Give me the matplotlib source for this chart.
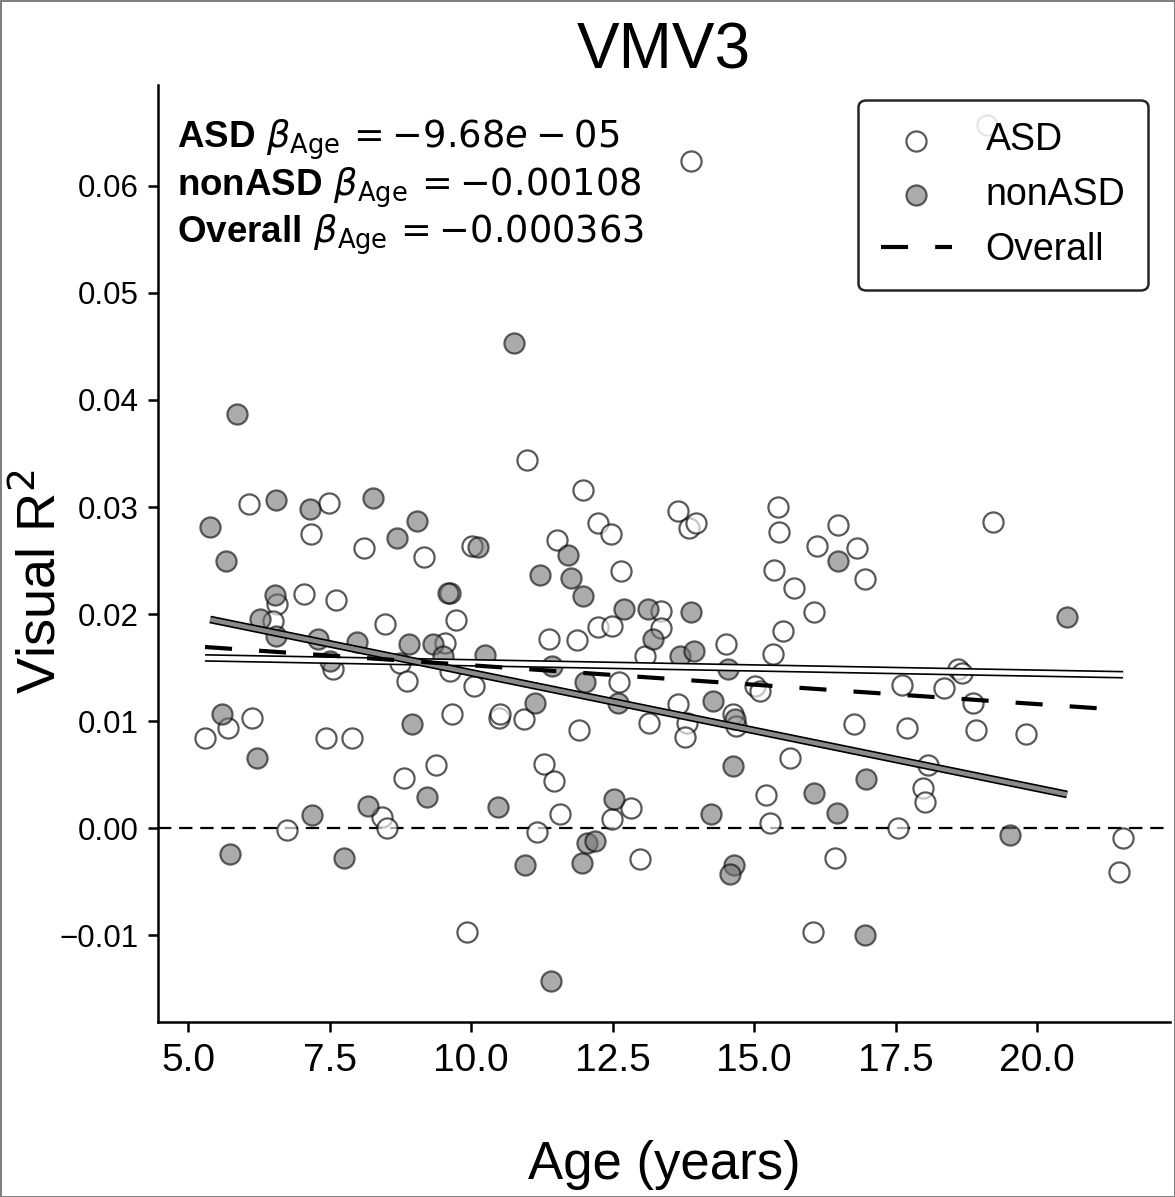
import numpy as np
import matplotlib
matplotlib.use("Agg")
import matplotlib.pyplot as plt
import matplotlib.patheffects as pe

plt.rcParams['font.family'] = ['Liberation Sans', 'DejaVu Sans']
plt.rcParams['mathtext.fontset'] = 'custom'
plt.rcParams['mathtext.rm'] = 'DejaVu Sans'
plt.rcParams['mathtext.it'] = 'DejaVu Sans:italic'
plt.rcParams['mathtext.bf'] = 'Liberation Sans:bold'

# -------------------------------
# Visual R^2 by age, ASD group (open markers)
asd_age = [13.89, 19.12, 6.08, 7.49, 7.17, 8.11, 9.17, 10.02, 6.57, 7.05, 7.61, 9.62,
           6.50, 8.48, 9.73, 9.54, 7.56, 8.75, 9.63, 8.87, 10.05, 6.13, 5.71, 5.30,
           7.44, 7.90, 9.66, 10.49, 10.51, 10.94, 9.38, 8.82, 8.43, 8.51, 6.75, 9.93,
           10.99, 11.98, 12.24, 12.47, 13.66, 13.85, 13.97, 15.42, 15.44, 16.11, 16.48,
           11.52, 12.65, 15.35, 15.71, 16.06, 15.51, 13.36, 13.36, 12.24, 12.49, 11.38,
           11.87, 14.51, 15.34, 16.82, 16.96, 19.22, 13.07, 12.62, 15.02, 15.11, 11.91,
           13.14, 13.66, 13.82, 13.78, 14.63, 14.68, 15.64, 11.29, 11.47, 15.21, 11.57,
           12.83, 12.49, 15.28, 11.17, 12.99, 16.43, 16.04, 18.60, 18.67, 17.62, 18.36,
           18.87, 16.77, 17.70, 18.92, 19.81, 18.07, 17.99, 18.02, 17.54, 21.52, 21.45]
asd_r2 = [0.0623, 0.0657, 0.0303, 0.0304, 0.0275, 0.0262, 0.0253, 0.0264, 0.0209, 0.0219,
          0.0213, 0.0220, 0.0193, 0.0191, 0.0194, 0.0173, 0.0149, 0.0154, 0.0147, 0.0137,
          0.0133, 0.0103, 0.0093, 0.0084, 0.0084, 0.0084, 0.0107, 0.0103, 0.0107, 0.0102,
          0.0059, 0.0047, 0.0010, 0.0000, -0.0002, -0.0097, 0.0344, 0.0316, 0.0285, 0.0275,
          0.0296, 0.0280, 0.0285, 0.0300, 0.0277, 0.0264, 0.0283, 0.0269, 0.0240, 0.0241,
          0.0224, 0.0202, 0.0184, 0.0203, 0.0187, 0.0188, 0.0189, 0.0177, 0.0176, 0.0172,
          0.0163, 0.0262, 0.0233, 0.0286, 0.0161, 0.0136, 0.0133, 0.0128, 0.0092, 0.0098,
          0.0116, 0.0098, 0.0085, 0.0107, 0.0095, 0.0065, 0.0060, 0.0044, 0.0031, 0.0013,
          0.0019, 0.0008, 0.0005, -0.0004, -0.0029, -0.0028, -0.0097, 0.0149, 0.0145, 0.0134,
          0.0131, 0.0117, 0.0097, 0.0093, 0.0092, 0.0088, 0.0059, 0.0037, 0.0024, 0.0000,
          -0.0009, -0.0041]

# nonASD group (filled markers)
nonasd_age = [5.87, 6.55, 7.16, 8.27, 5.39, 8.69, 9.05, 10.12, 5.67, 6.54, 9.59, 6.27,
              6.55, 7.30, 7.99, 8.90, 9.33, 10.25, 7.51, 9.50, 5.60, 6.22, 8.96, 9.22,
              8.18, 7.19, 10.48, 5.74, 7.76, 10.76, 16.48, 11.71, 11.22, 11.77, 11.98,
              12.70, 13.13, 13.89, 13.22, 20.53, 13.69, 13.94, 11.43, 14.54, 12.01, 12.60,
              11.13, 14.28, 14.66, 14.63, 16.06, 12.53, 14.24, 16.47, 12.05, 12.19, 10.95,
              11.96, 14.65, 14.58, 11.41, 16.98, 19.52, 16.96]
nonasd_r2 = [0.0387, 0.0307, 0.0298, 0.0308, 0.0281, 0.0271, 0.0287, 0.0263, 0.0250, 0.0218,
             0.0220, 0.0195, 0.0179, 0.0177, 0.0174, 0.0172, 0.0172, 0.0162, 0.0156, 0.0161,
             0.0107, 0.0065, 0.0097, 0.0029, 0.0021, 0.0012, 0.0020, -0.0024, -0.0028, 0.0453,
             0.0250, 0.0255, 0.0236, 0.0234, 0.0217, 0.0205, 0.0205, 0.0202, 0.0177, 0.0197,
             0.0161, 0.0165, 0.0151, 0.0149, 0.0136, 0.0117, 0.0117, 0.0119, 0.0102, 0.0058,
             0.0033, 0.0027, 0.0013, 0.0014, -0.0014, -0.0012, -0.0035, -0.0033, -0.0035,
             -0.0043, -0.0143, 0.0046, -0.0007, -0.0100]

# fitted age slopes and intercepts
groups = ['ASD', 'nonASD', 'Overall']
slopes = [-9.68e-05, -0.00108, -0.000363]
intercepts = [0.01641, 0.02531, 0.01884]
slope_labels = [r'-9.68e\:-\:05', '-0.00108', '-0.000363']

xticks = [5.0, 7.5, 10.0, 12.5, 15.0, 17.5, 20.0]
yticks = [-0.01, 0.00, 0.01, 0.02, 0.03, 0.04, 0.05, 0.06]

# -------------------------------
fig = plt.figure(figsize=(11.75, 11.97), dpi=100)
fig.patch.set_edgecolor('#7f7f7f')
fig.patch.set_linewidth(2)
ax = fig.add_axes([0.1345, 0.1462, 0.8613, 0.7828])

ax.axhline(0, color='k', lw=1.6, dashes=(6, 3.5), zorder=1)

ax.scatter(asd_age, asd_r2, s=210, facecolor='white', edgecolor='k', linewidth=1.6,
           alpha=0.65, zorder=2, label='ASD')
ax.scatter(nonasd_age, nonasd_r2, s=210, facecolor='#747474', edgecolor='k', linewidth=1.6,
           alpha=0.6, zorder=2, label='nonASD')

all_age = asd_age + nonasd_age
spans = [(min(asd_age), max(asd_age)), (min(nonasd_age), max(nonasd_age)),
         (min(all_age), max(all_age))]

# group fits drawn as outlined lines
fill_colors = ['white', '#8a8a8a']
for i in range(2):
    xs = np.array(spans[i])
    ax.plot(xs, intercepts[i] + slopes[i] * xs, color=fill_colors[i], lw=3.2,
            solid_capstyle='butt', zorder=4,
            path_effects=[pe.Stroke(linewidth=5.6, foreground='k'), pe.Normal()])

xs = np.array(spans[2])
ax.plot(xs, intercepts[2] + slopes[2] * xs, color='k', lw=3, dashes=(6.5, 6.5),
        zorder=4, label='Overall')

ax.set_xlim(4.47, 22.35)
ax.set_ylim(-0.01813, 0.06944)
ax.set_xticks(xticks)
ax.set_yticks(yticks)
ax.set_xticklabels([f'{t:.1f}' for t in xticks])
ax.set_yticklabels([f'{t:.2f}'.replace('-', '\u2212') for t in yticks])
ax.tick_params(axis='x', labelsize=28, length=7, width=1.8, pad=8)
ax.tick_params(axis='y', labelsize=22.5, length=7, width=1.8, pad=7)
for side in ['top', 'right']:
    ax.spines[side].set_visible(False)
for side in ['left', 'bottom']:
    ax.spines[side].set_linewidth(1.8)

ax.set_title('VMV3', fontsize=46, pad=12)
ax.set_xlabel('Age (years)', fontsize=38, labelpad=44)
ax.set_ylabel('Visual R$^2$', fontsize=39)
ax.yaxis.set_label_coords(-0.09, 0.47)

# slope annotations
baselines = [0.933, 0.882, 0.832]
for g, lab, yb in zip(groups, slope_labels, baselines):
    ax.text(0.019, yb, r'$\mathbf{' + g + r'}\ \beta_{\mathrm{Age}}\,=' + lab + '$',
            transform=ax.transAxes, fontsize=26.5, va='baseline', ha='left', zorder=6)

leg = ax.legend(loc='upper right', bbox_to_anchor=(0.978, 0.984), borderaxespad=0,
                fontsize=27, handlelength=1.9, frameon=True, fancybox=True,
                edgecolor='k', framealpha=0.85, labelspacing=0.5, borderpad=0.6,
                handletextpad=0.9)
leg.get_frame().set_linewidth(1.8)

fig.savefig('out.png', dpi=100)
